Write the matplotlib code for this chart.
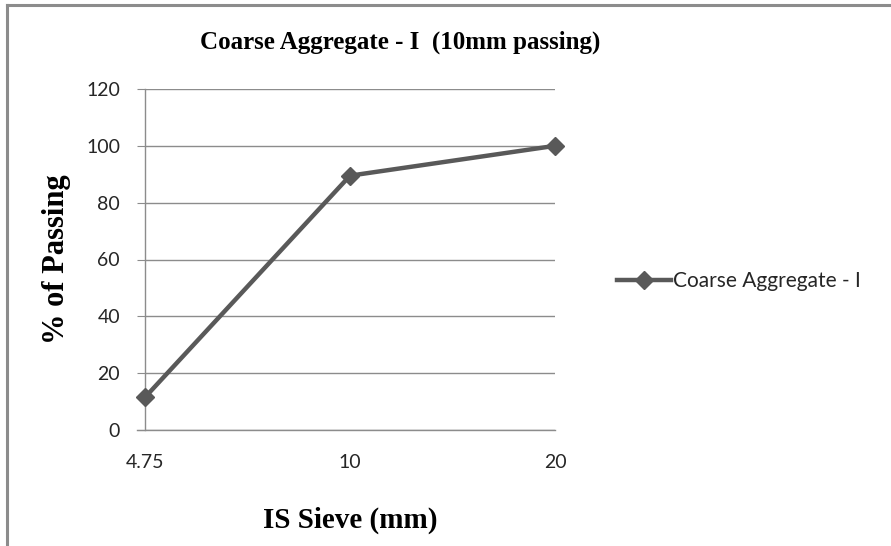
import matplotlib
matplotlib.use("Agg")
import matplotlib.pyplot as plt
from matplotlib.lines import Line2D

sieve_labels = ["4.75", "10", "20"]
passing = [11.5, 89.5, 100]
series_name = "Coarse Aggregate - I"
title = "Coarse Aggregate - I  (10mm passing)"
yticks = [0, 20, 40, 60, 80, 100, 120]

W, H = 891, 546
fig = plt.figure(figsize=(W / 100, H / 100), dpi=100)

# chart frame (left and top edges only visible)
fig.add_artist(Line2D([6.5 / W, 6.5 / W], [0, 1 - 4.5 / H], color="#8c8c8c", lw=2.2))
fig.add_artist(Line2D([6.5 / W, 1], [1 - 4.5 / H, 1 - 4.5 / H], color="#8c8c8c", lw=2.2))

ax = fig.add_axes([145 / W, 1 - 430 / H, (555 - 145) / W, (430 - 89) / H])
x = list(range(len(passing)))
line_col = "#595959"
ax.plot(x, passing, color=line_col, lw=3.2, marker="D", markersize=9,
        label=series_name, clip_on=False, zorder=3)

ax.set_xlim(0, len(passing) - 1)
ax.set_ylim(0, 120)
ax.set_yticks(yticks)
ax.set_xticks(x)
ax.set_xticklabels(sieve_labels)

ax.grid(axis="y", color="#8c8c8c", lw=1)
ax.set_axisbelow(True)
for s in ["top", "right"]:
    ax.spines[s].set_visible(False)
for s in ["left", "bottom"]:
    ax.spines[s].set_color("#8c8c8c")
    ax.spines[s].set_linewidth(1)
ax.spines["bottom"].set_bounds(-8 / 410 * 2, 2)

ax.tick_params(axis="y", length=6, color="#8c8c8c", pad=12)
ax.tick_params(axis="x", length=0, pad=17)
for lab in ax.get_xticklabels() + ax.get_yticklabels():
    lab.set_fontfamily("Lato")
    lab.set_fontsize(14)
    lab.set_color("#262626")

serif = dict(family="Liberation Serif", weight="bold", color="black")
fig.text(400 / W, 1 - 42 / H, title, ha="center", va="center", size=18, **serif)
ax.set_xlabel("IS Sieve (mm)", fontsize=21, labelpad=26, **serif)
ax.set_ylabel("% of Passing", fontsize=22, labelpad=11, **serif)

leg = fig.legend(handles=ax.get_lines(), loc="center left",
                 bbox_to_anchor=(598 / W, 1 - 281 / H), frameon=False,
                 handlelength=2.6, handletextpad=0.1,
                 prop=dict(family="Lato", size=15))
for t in leg.get_texts():
    t.set_color("#262626")

fig.savefig("out.png", dpi=100)
